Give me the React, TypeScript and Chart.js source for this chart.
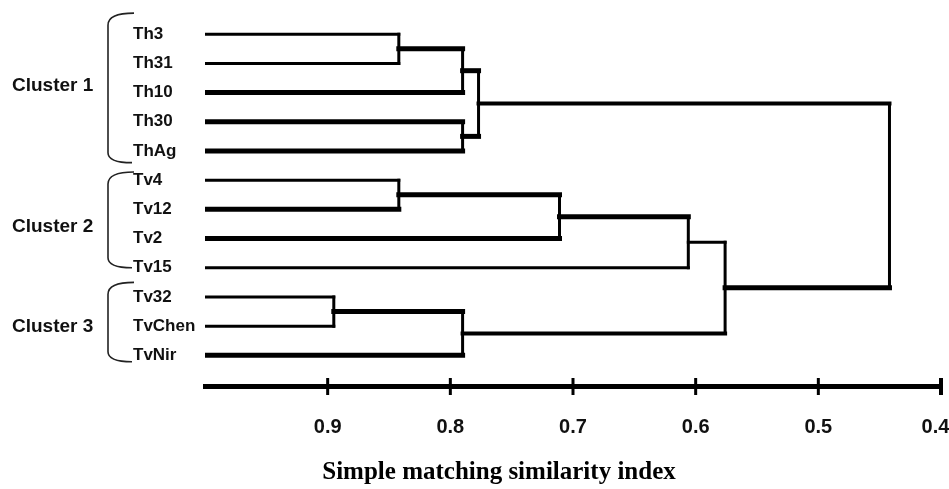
import React, { useEffect, useRef } from "react";
import { Chart, registerables } from "chart.js";

Chart.register(...registerables);

// ---------- data ----------
const leaves = ["Th3", "Th31", "Th10", "Th30", "ThAg", "Tv4", "Tv12", "Tv2", "Tv15", "Tv32", "TvChen", "TvNir"];
const leafSimilarity = 1.0;
// merges: node ids 0..11 are leaves, 12.. are merged clusters in order
const mergeLeft = [0, 12, 3, 13, 5, 16, 17, 9, 19, 18, 15];
const mergeRight = [1, 2, 4, 14, 6, 7, 8, 10, 11, 20, 21];
const mergeSimilarity = [0.842, 0.79, 0.79, 0.777, 0.842, 0.711, 0.606, 0.895, 0.79, 0.576, 0.442];

const xTickValues = [0.9, 0.8, 0.7, 0.6, 0.5, 0.4];
const xTickLabels = ["0.9", "0.8", "0.7", "0.6", "0.5", "0.4"];

const clusterNames = ["Cluster 1", "Cluster 2", "Cluster 3"];
const clusterFirst = [0, 5, 9];
const clusterLast = [4, 8, 11];

const axisTitle = "Simple matching similarity index";

// ---------- styles ----------
const connectorWidths = [3, 3, 5, 5, 5, 3, 5, 5, 3, 3, 3, 5, 5, 5, 5, 4, 5, 5, 3, 5, 4, 5];
const verticalWidth = 3;
const braceTopOffset = [-0.72, -0.28, -0.5];
const braceBottomOffset = [0.4, 0.0, 0.22];
const clusterLabelOffset = [-0.25, 0.1, 0.03];
const sansFont = '"Liberation Sans", Arial, "DejaVu Sans", sans-serif';
const serifFont = '"Liberation Serif", "Times New Roman", "DejaVu Serif", serif';

function buildDatasets() {
  const n = leaves.length;
  const total = n + mergeLeft.length;
  const nodeY: number[] = new Array(total);
  const nodeX: number[] = new Array(total);
  const parent: number[] = new Array(total).fill(-1);
  for (let i = 0; i < n; i++) {
    nodeY[i] = i;
    nodeX[i] = leafSimilarity;
  }
  mergeLeft.forEach((l, m) => {
    const r = mergeRight[m];
    const id = n + m;
    nodeY[id] = (nodeY[l] + nodeY[r]) / 2;
    nodeX[id] = mergeSimilarity[m];
    parent[l] = id;
    parent[r] = id;
  });
  const datasets: any[] = [];
  for (let id = 0; id < total; id++) {
    const p = parent[id];
    if (p < 0) continue;
    datasets.push({
      data: [
        { x: nodeX[id], y: nodeY[id] },
        { x: nodeX[p], y: nodeY[id] },
      ],
      borderWidth: connectorWidths[id],
    });
  }
  mergeLeft.forEach((l, m) => {
    const r = mergeRight[m];
    datasets.push({
      data: [
        { x: mergeSimilarity[m], y: nodeY[l] },
        { x: mergeSimilarity[m], y: nodeY[r] },
      ],
      borderWidth: verticalWidth,
    });
  });
  return datasets.map((d) => ({
    ...d,
    showLine: true,
    borderColor: "#000",
    backgroundColor: "#000",
    pointRadius: 0,
    borderCapStyle: "square",
    fill: false,
    tension: 0,
  }));
}

const decorPlugin = {
  id: "decor",
  afterDraw(chart: any) {
    const ctx = chart.ctx as CanvasRenderingContext2D;
    const xs = chart.scales.x;
    const ys = chart.scales.y;
    ctx.save();
    // axis tick marks crossing the axis line
    ctx.strokeStyle = "#000";
    xTickValues.forEach((v, i) => {
      const px = xs.getPixelForValue(v);
      ctx.lineWidth = i === xTickValues.length - 1 ? 4 : 3;
      ctx.beginPath();
      ctx.moveTo(px, xs.top - 8);
      ctx.lineTo(px, xs.top + 9);
      ctx.stroke();
    });
    // braces + cluster labels
    ctx.lineWidth = 1.6;
    ctx.strokeStyle = "#222";
    clusterNames.forEach((name, c) => {
      const top = ys.getPixelForValue(clusterFirst[c] + braceTopOffset[c]);
      const bot = ys.getPixelForValue(clusterLast[c] + braceBottomOffset[c]);
      const bx = 108;
      ctx.beginPath();
      ctx.moveTo(134, top);
      ctx.quadraticCurveTo(bx, top, bx, top + 12);
      ctx.lineTo(bx, bot - 10);
      ctx.quadraticCurveTo(bx, bot, 132, bot);
      ctx.stroke();
      const cy = ys.getPixelForValue((clusterFirst[c] + clusterLast[c]) / 2 + clusterLabelOffset[c]);
      ctx.fillStyle = "#111";
      ctx.font = `bold 19px ${sansFont}`;
      ctx.textAlign = "left";
      ctx.textBaseline = "middle";
      ctx.fillText(name, 12, cy);
    });
    // axis title
    ctx.fillStyle = "#000";
    ctx.font = `bold 25px ${serifFont}`;
    ctx.textAlign = "center";
    ctx.textBaseline = "middle";
    ctx.fillText(axisTitle, 499, 473);
    ctx.restore();
  },
};

export default function App() {
  const ref = useRef<HTMLCanvasElement>(null);
  useEffect(() => {
    document.body.style.margin = "0";
    const canvas = ref.current;
    if (!canvas) return;
    const chart = new Chart(canvas, {
      type: "scatter",
      data: { datasets: buildDatasets() },
      options: {
        animation: false,
        responsive: false,
        maintainAspectRatio: false,
        layout: { padding: { left: 133, right: 8, top: 5, bottom: 0 } },
        plugins: { legend: { display: false }, tooltip: { enabled: false } },
        scales: {
          x: {
            type: "linear",
            min: 0.4,
            max: 1.0,
            reverse: true,
            afterBuildTicks: (scale: any) => {
              scale.ticks = xTickValues.map((v) => ({ value: v }));
            },
            afterFit: (scale: any) => {
              scale.height = 103;
              scale.paddingLeft = 0;
              scale.paddingRight = 0;
            },
            grid: { display: false, drawTicks: false },
            border: { display: true, width: 5, color: "#000" },
            ticks: {
              padding: 29,
              color: "#111",
              font: { family: sansFont, size: 20, weight: "bold" },
              maxRotation: 0,
              autoSkip: false,
              callback: (v: any) => {
                const i = xTickValues.findIndex((t) => Math.abs(t - Number(v)) < 1e-9);
                if (i < 0) return "";
                // last label sits at the canvas edge: pad so it stays inside
                return i === xTickValues.length - 1 ? xTickLabels[i] + "  " : xTickLabels[i];
              },
            },
          },
          y: {
            type: "linear",
            min: -1,
            max: 12.05,
            reverse: true,
            afterBuildTicks: (scale: any) => {
              scale.ticks = leaves.map((_, i) => ({ value: i }));
            },
            afterFit: (scale: any) => {
              scale.width = 72;
              scale.paddingTop = 0;
              scale.paddingBottom = 0;
            },
            grid: { display: false, drawTicks: false },
            border: { display: false },
            ticks: {
              crossAlign: "far",
              color: "#111",
              autoSkip: false,
              font: { family: sansFont, size: 17, weight: "bold" },
              callback: (v: any) => leaves[Math.round(Number(v))] ?? "",
            },
          },
        },
      },
      plugins: [decorPlugin],
    } as any);
    return () => chart.destroy();
  }, []);
  return <canvas ref={ref} width={949} height={489} style={{ display: "block" }} />;
}
